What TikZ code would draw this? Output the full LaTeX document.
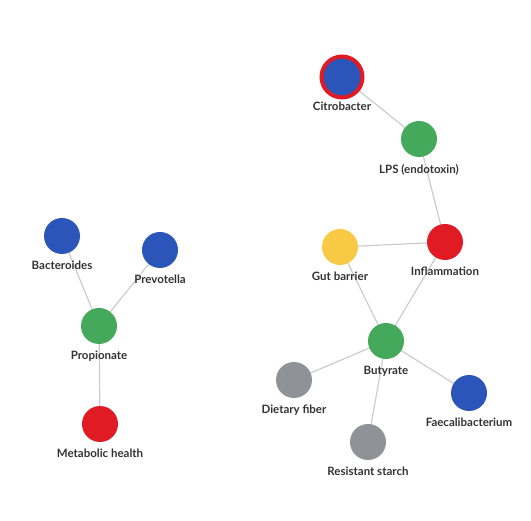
\documentclass[tikz,border=0pt]{standalone}
\usepackage{fontspec}
\setmainfont{Lato}
\usepackage{xcolor}
\usepackage{tikz}
\usetikzlibrary{positioning,backgrounds}
\definecolor{netblue}{HTML}{2B55B8}
\definecolor{netgreen}{HTML}{44A95B}
\definecolor{netred}{HTML}{E01B24}
\definecolor{netyellow}{HTML}{F7C945}
\definecolor{netgray}{HTML}{8F9297}
\definecolor{netedge}{HTML}{CBCCCF}
\definecolor{nettext}{HTML}{333333}

\begin{document}
\begin{tikzpicture}[
  x=1pt, y=-1pt,
  every label/.style={font=\bfseries\fontsize{11.5}{13}\selectfont, text=nettext, inner sep=0pt},
  label distance=6.8pt,
  dot/.style={circle, minimum size=36pt, inner sep=0pt, outer sep=0pt, fill=#1},
  ringdot/.style={dot=#1, minimum size=41pt, draw=netred, line width=4pt},
  link/.style={draw=netedge, line width=1.2pt}
]
\useasboundingbox (0,0) rectangle (531,521);
% left cluster
\node[dot=netblue, label=below:Bacteroides] (bact) at (62,236) {};
\node[dot=netblue, label=below:Prevotella] (prev) at (160,250) {};
\node[dot=netgreen, label=below:Propionate] (prop) at (99,326) {};
\node[dot=netred, label=below:Metabolic health] (meta) at (100,424) {};
% right cluster
\node[ringdot=netblue, label={[label distance=4.5pt]below:Citrobacter}] (citro) at (342,77) {};
\node[dot=netgreen, label=below:LPS (endotoxin)] (lps) at (419,139) {};
\node[dot=netred, label=below:Inflammation] (infl) at (445,242) {};
\node[dot=netyellow, label=below:Gut barrier] (gut) at (340,247) {};
\node[dot=netgreen, label=below:Butyrate] (buty) at (386,341) {};
\node[dot=netgray, label=below:Dietary fiber] (fiber) at (294,380) {};
\node[dot=netblue, label=below:Faecalibacterium] (faec) at (469,393) {};
\node[dot=netgray, label=below:Resistant starch] (starch) at (368,442) {};
% links behind the dots
\begin{scope}[on background layer]
\foreach \a/\b in {bact/prop, prev/prop, prop/meta, citro/lps, lps/infl, gut/infl,
    infl/buty, gut/buty, buty/fiber, buty/starch, buty/faec}
  \draw[link] (\a.center) -- (\b.center);
\end{scope}
\end{tikzpicture}
\end{document}
